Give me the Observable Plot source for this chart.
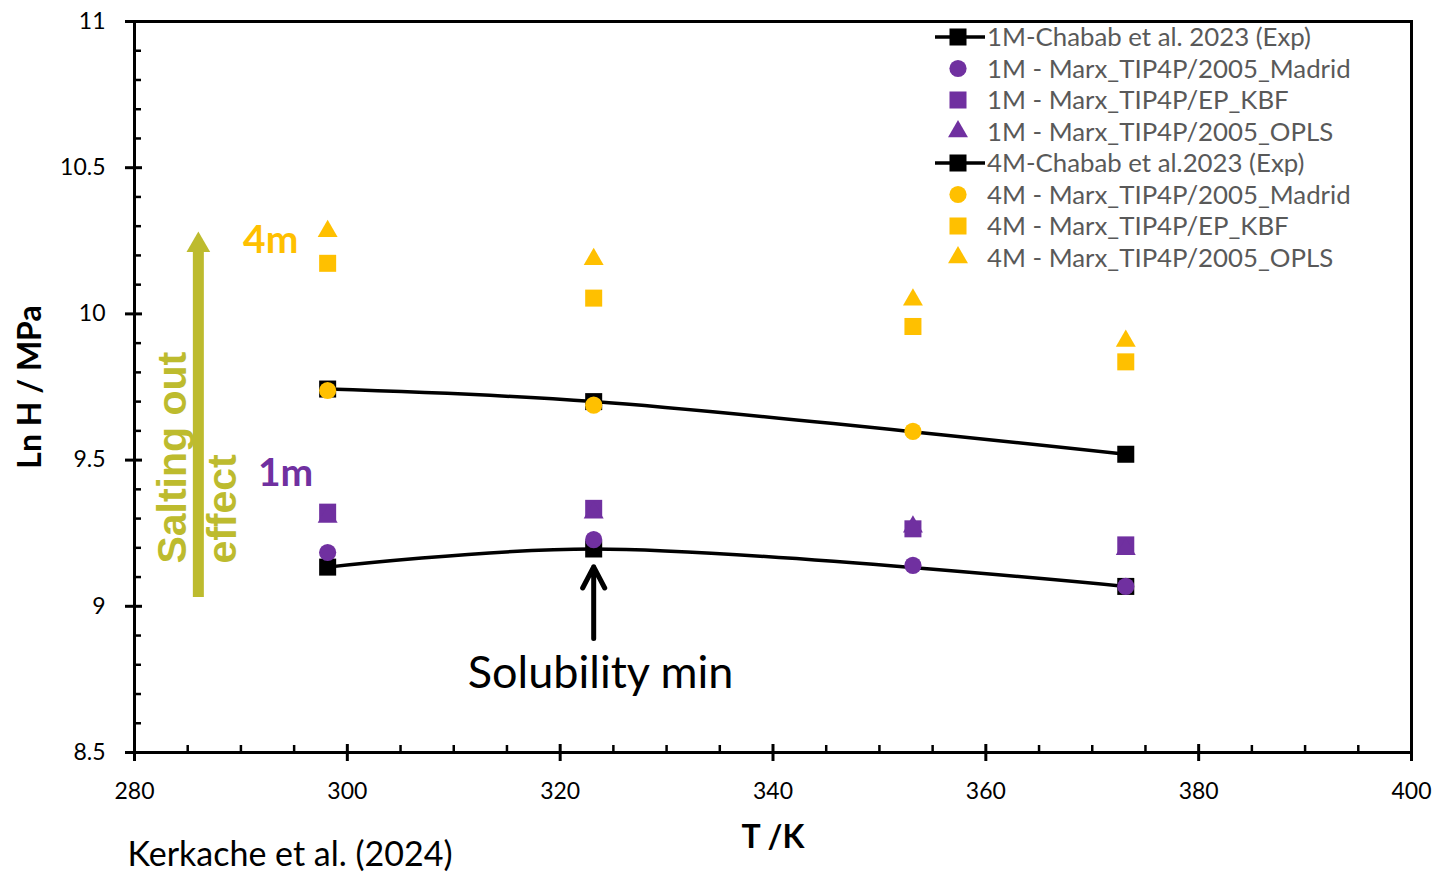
<!DOCTYPE html>
<html>
<head>
<meta charset="utf-8">
<script src="https://cdn.jsdelivr.net/npm/d3@7"></script>
<script src="https://cdn.jsdelivr.net/npm/@observablehq/plot@0.6"></script>
<style>
  html, body { margin: 0; padding: 0; background: #fff; }
  #chart { position: relative; width: 1435px; height: 872px; }
  svg { font-family: Lato, "Liberation Sans", sans-serif; }
</style>
</head>
<body>
<div id="chart"></div>
<script>
// ---- data ----
const temps = [298.15, 323.15, 353.15, 373.15];
const exp1M    = [9.134, 9.196, null, 9.068];
const madrid1M = [9.184, 9.228, 9.140, 9.068];
const kbf1M    = [9.322, 9.335, 9.265, 9.210];
const opls1M   = [9.305, 9.320, 9.272, 9.195];
const exp4M    = [9.743, 9.700, null, 9.520];
const madrid4M = [9.738, 9.688, 9.598, null];
const kbf4M    = [10.173, 10.054, 9.957, 9.836];
const opls4M   = [10.283, 10.187, 10.048, 9.907];

const xMajor = [280, 300, 320, 340, 360, 380, 400];
const xMinor = d3.range(285, 400, 5).filter(v => v % 20 !== 0);
const yMajor = [8.5, 9, 9.5, 10, 10.5, 11];
const yMinor = d3.range(86, 110).map(v => v / 10).filter(v => Math.round(v * 10) % 5 !== 0);

const purple = "#7030A0", yellow = "#FFC000", olive = "#BDBB2E";

const seriesNames = [
  "1M-Chabab et al. 2023 (Exp)",
  "1M - Marx_TIP4P/2005_Madrid",
  "1M - Marx_TIP4P/EP_KBF",
  "1M - Marx_TIP4P/2005_OPLS",
  "4M-Chabab et al.2023 (Exp)",
  "4M - Marx_TIP4P/2005_Madrid",
  "4M - Marx_TIP4P/EP_KBF",
  "4M - Marx_TIP4P/2005_OPLS"
];
const seriesValues = [exp1M, madrid1M, kbf1M, opls1M, exp4M, madrid4M, kbf4M, opls4M];
const seriesColor = ["black", purple, purple, purple, "black", yellow, yellow, yellow];
const seriesSymbol = ["square", "circle", "square", "triangle", "square", "circle", "square", "triangle"];
const seriesR = {square: 9.6, circle: 8.6, triangle: 7.4};

// annotation anchors (data coordinates)
const saltArrow = {T: 286.0, from: 9.03, to: 10.22, tip: 10.235};
const saltText = [
  {T: 283.6, v: 9.146, text: "Salting out"},
  {T: 288.3, v: 9.146, text: "effect"}
];
const label4m = {T: 292.8, v: 10.25, text: "4m"};
const label1m = {T: 294.2, v: 9.454, text: "1m"};
const solArrow = {T: 323.15, from: 8.89, to: 9.135, label: "Solubility min", labelT: 323.8, labelV: 8.77};

const table = [];
seriesNames.forEach((name, i) => {
  temps.forEach((t, j) => {
    const v = seriesValues[i][j];
    if (v != null) table.push({series: name, T: t, v, i});
  });
});
const bySeries = i => table.filter(d => d.i === i);

const font = "Lato, 'Liberation Sans', sans-serif";
const marks = [
  Plot.frame({stroke: "black", strokeWidth: 3}),
  // major ticks crossing, minor ticks inward
  Plot.axisX({ticks: xMajor, tickSize: 9, tickPadding: 21, strokeWidth: 3, fontSize: 23, tickFormat: d => String(d), label: null}),
  Plot.axisX({ticks: xMajor, tickSize: -8, text: null, strokeWidth: 3, label: null}),
  Plot.axisX({ticks: xMinor, tickSize: -7, text: null, strokeWidth: 2.5, label: null}),
  Plot.axisY({ticks: yMajor, tickSize: 9, tickPadding: 20, strokeWidth: 3, fontSize: 23, tickFormat: d => String(d), label: null}),
  Plot.axisY({ticks: yMajor, tickSize: -8, text: null, strokeWidth: 3, label: null}),
  Plot.axisY({ticks: yMinor, tickSize: -7, text: null, strokeWidth: 2.5, label: null}),
  // experimental lines (smoothed)
  Plot.line(bySeries(0), {x: "T", y: "v", curve: "catmull-rom", stroke: "black", strokeWidth: 3.5}),
  Plot.line(bySeries(4), {x: "T", y: "v", curve: "catmull-rom", stroke: "black", strokeWidth: 3.5}),
];
seriesNames.forEach((name, i) => {
  marks.push(Plot.dot(bySeries(i), {
    x: "T", y: "v", symbol: seriesSymbol[i], r: seriesR[seriesSymbol[i]],
    fill: seriesColor[i], stroke: "none"
  }));
});
marks.push(
  // salting out arrow
  Plot.ruleX([saltArrow], {x: "T", y1: "from", y2: "to", stroke: olive, strokeWidth: 11}),
  Plot.dot([saltArrow], {x: "T", y: "tip", symbol: "triangle", r: 8.8, fill: olive}),
  Plot.text(saltText, {x: "T", y: "v", text: "text", rotate: -90, textAnchor: "start", lineAnchor: "middle", fontSize: 41, fontWeight: "bold", fill: olive, fontFamily: "'Liberation Sans', Arial, sans-serif"}),
  Plot.text([label4m], {x: "T", y: "v", text: "text", fontSize: 39, fontWeight: "bold", fill: yellow}),
  Plot.text([label1m], {x: "T", y: "v", text: "text", fontSize: 39, fontWeight: "bold", fill: purple}),
  // solubility arrow
  Plot.arrow([solArrow], {x: "T", y1: "from", y2: "to", stroke: "black", strokeWidth: 5, headLength: 24, headAngle: 55}),
  Plot.text([solArrow], {x: "labelT", y: "labelV", text: "label", fontSize: 45, fill: "black"}),
  // axis titles and caption
  Plot.text(["Ln H / MPa"], {frameAnchor: "left", dx: -104, rotate: -90, textAnchor: "middle", lineAnchor: "middle", fontSize: 32, fontWeight: "bold", fill: "black"}),
  Plot.text(["T /K"], {frameAnchor: "bottom", dy: 85, lineAnchor: "middle", fontSize: 32, fontWeight: "bold", fill: "black"}),
  Plot.text(["Kerkache et al. (2024)"], {frameAnchor: "bottom-left", dx: -7, dy: 103, textAnchor: "start", lineAnchor: "middle", fontSize: 34, fill: "black"})
);

const plot = Plot.plot({
  width: 1435,
  height: 872,
  marginLeft: 134,
  marginRight: 24,
  marginTop: 21,
  marginBottom: 120,
  style: {fontFamily: font, color: "black", background: "white", overflow: "visible"},
  x: {domain: [280, 400], label: null},
  y: {domain: [8.5, 11], label: null},
  marks
});
document.getElementById("chart").appendChild(plot);

// legend (drawn into the same svg)
const svg = d3.select(plot);
const lg = svg.append("g").attr("transform", "translate(935,37)");
seriesNames.forEach((name, i) => {
  const row = lg.append("g").attr("transform", `translate(0,${i * 31.5})`);
  if (i === 0 || i === 4) {
    row.append("line").attr("x1", 0).attr("x2", 50).attr("y1", 0).attr("y2", 0)
      .attr("stroke", "black").attr("stroke-width", 3.5);
  }
  const sym = {square: d3.symbolSquare, circle: d3.symbolCircle, triangle: d3.symbolTriangle}[seriesSymbol[i]];
  const r = seriesR[seriesSymbol[i]];
  row.append("path").attr("transform", "translate(23,0)")
    .attr("d", d3.symbol(sym, Math.PI * r * r)())
    .attr("fill", seriesColor[i]);
  row.append("text").attr("x", 52).attr("y", 0).attr("dy", "0.35em")
    .attr("text-anchor", "start")
    .attr("font-size", 25.8).attr("fill", "#595959").text(name);
});
</script>
</body>
</html>
